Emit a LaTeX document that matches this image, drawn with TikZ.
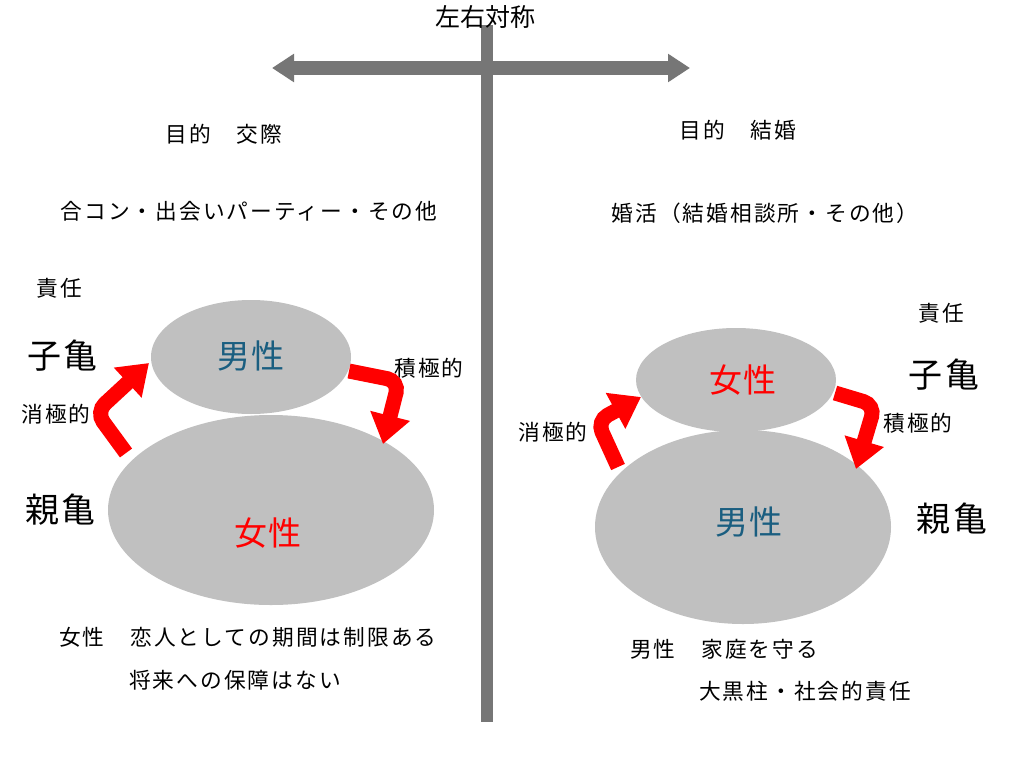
\documentclass[tikz,border=0pt]{standalone}
\usepackage{fontspec}
\setmainfont{Noto Sans CJK JP}
\newfontfamily\jpsp[LetterSpace=9.5]{Noto Sans CJK JP}
\newfontfamily\jpbig[LetterSpace=6]{Noto Sans CJK JP}
\usetikzlibrary{arrows.meta,shapes.geometric}
\definecolor{bargray}{RGB}{118,118,118}
\definecolor{ellgray}{RGB}{192,192,192}
\definecolor{maletxt}{RGB}{26,94,128}
\begin{document}
\begin{tikzpicture}[x=1pt,y=-1pt,
  txt/.style={font=\fontsize{21.7}{24}\selectfont\jpsp, inner sep=0pt},
  kame/.style={font=\fontsize{34}{38}\selectfont\jpbig, inner sep=0pt},
  sex/.style={font=\fontsize{33}{36}\selectfont\jpbig, inner sep=0pt},
  ell/.style={ellipse, fill=ellgray, draw=none, inner sep=0pt},
  redarrow/.style={draw=red, line width=15pt, rounded corners=12pt,
    -{Triangle[width=39pt,length=29pt]}},
  bararrow/.style={draw=bargray, line width=14pt,
    {Triangle[width=27pt,length=22pt]}-{Triangle[width=27pt,length=22pt]}}]
\useasboundingbox (0,0) rectangle (1024,768);
\fill[white] (0,0) rectangle (1024,768);

% axis
\coordinate (hl) at (272,68);
\coordinate (hr) at (690,68);
\draw[bararrow] (hl) -- (hr);
\fill[bargray] (480.5,25) rectangle (493,722);
\node[inner sep=0pt, font=\fontsize{25}{28}\selectfont] (title) at (485,17) {左右対称};

% left side
\node[txt] (lgoal) at (224,134) {目的　交際};
\node[txt] (lmeans) at (249,211) {合コン・出会いパーティー・その他};
\node[txt] (lresp) at (59,288) {責任};
\node[kame] (lko) at (63,356) {子亀};
\node[txt] (lneg) at (56,414) {消極的};
\node[kame] (loya) at (61,510) {親亀};
\node[txt] (lpos) at (429,368) {積極的};
\node[ell, minimum width=200pt, minimum height=114pt] (lup) at (251,357) {};
\node[ell, minimum width=326pt, minimum height=190pt] (llow) at (271,510) {};
\node[sex, text=maletxt] (lupt) at (251,356) {男性};
\node[sex, text=red] (llowt) at (268,533) {女性};
\node[txt, anchor=west] (lnote1) at (59,637) {女性　恋人としての期間は制限ある};
\node[txt, anchor=west] (lnote2) at (129,680) {将来への保障はない};

% left arrows
\coordinate (a1s) at (126,453);
\coordinate (a1b) at (96,412);
\coordinate (a1t) at (149,363);
\draw[redarrow] (a1s) -- (a1b) -- (a1t);
\coordinate (a2s) at (349,371);
\coordinate (a2b) at (399,381);
\coordinate (a2t) at (383,444);
\draw[redarrow] (a2s) -- (a2b) -- (a2t);

% right side
\node[txt] (rgoal) at (738,130) {目的　結婚};
\node[txt] (rmeans) at (765,213) {婚活（結婚相談所・その他）};
\node[txt] (rresp) at (941,313) {責任};
\node[kame] (rko) at (944,375) {子亀};
\node[txt] (rneg) at (553,432) {消極的};
\node[txt] (rpos) at (918,423) {積極的};
\node[kame] (roya) at (952,519) {親亀};
\node[ell, minimum width=200pt, minimum height=104pt] (rup) at (736,380) {};
\node[ell, minimum width=296pt, minimum height=194pt] (rlow) at (743,527) {};
\node[sex, text=red] (rupt) at (743,380) {女性};
\node[sex, text=maletxt] (rlowt) at (749,522) {男性};
\node[txt, anchor=west] (rnote1) at (630,649) {男性　家庭を守る};
\node[txt, anchor=west] (rnote2) at (699,691) {大黒柱・社会的責任};

% right arrows
\coordinate (a3s) at (618,467);
\coordinate (a3b) at (597,421);
\coordinate (a3t) at (641,397);
\draw[redarrow] (a3s) -- (a3b) -- (a3t);
\coordinate (a4s) at (835,393);
\coordinate (a4b) at (875,405);
\coordinate (a4t) at (856,469);
\draw[redarrow] (a4s) -- (a4b) -- (a4t);
\end{tikzpicture}
\end{document}
